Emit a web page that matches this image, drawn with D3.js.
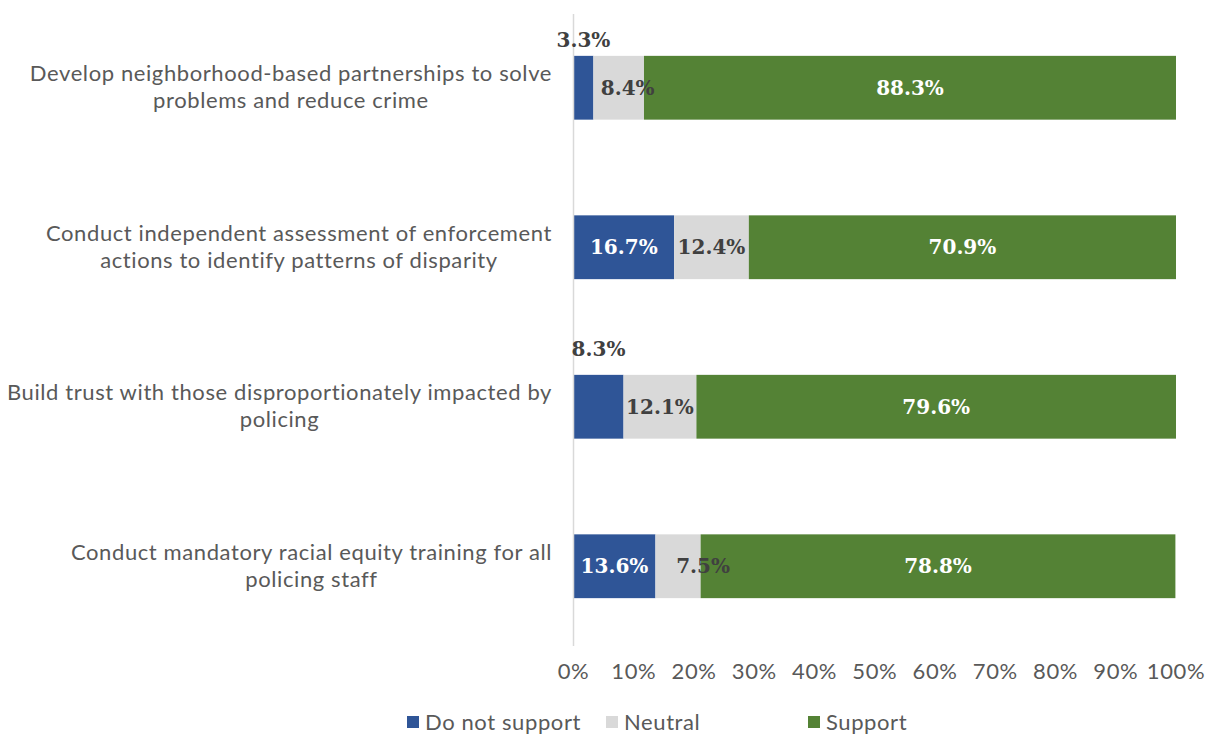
<!DOCTYPE html>
<html><head><meta charset="utf-8">
<script src="https://cdn.jsdelivr.net/npm/d3@7"></script>
<style>body{margin:0;background:#fff}svg{display:block}</style>
</head><body><svg id="c" width="1214" height="737"></svg>
<script>
const categories = [
  "Develop neighborhood-based partnerships to solve problems and reduce crime",
  "Conduct independent assessment of enforcement actions to identify patterns of disparity",
  "Build trust with those disproportionately impacted by policing",
  "Conduct mandatory racial equity training for all policing staff"
];
const categoryLines = [
  ["Develop neighborhood-based partnerships to solve","problems and reduce crime"],
  ["Conduct independent assessment of enforcement","actions to identify patterns of disparity"],
  ["Build trust with those disproportionately impacted by","policing"],
  ["Conduct mandatory racial equity training for all","policing staff"]
];
const seriesNames = ["Do not support","Neutral","Support"];
const doNotSupport = [3.3, 16.7, 8.3, 13.6];
const neutral = [8.4, 12.4, 12.1, 7.5];
const support = [88.3, 70.9, 79.6, 78.8];
const tickValues = [0,10,20,30,40,50,60,70,80,90,100];
const colors = ["#2F5597","#D9D9D9","#548235"];

const svg = d3.select("#c");
const x = d3.scaleLinear().domain([0,100]).range([573.5,1176]);
const y = d3.scaleBand().domain(categories).range([8,646]).paddingInner(0.6).paddingOuter(0.3);

const series = [doNotSupport, neutral, support];
const rows = categories.map((c,i)=>({cat:c, vals:series.map(s=>s[i])}));

// bars
rows.forEach((r,i)=>{
  let acc=0;
  r.vals.forEach((v,k)=>{
    svg.append("rect").attr("x",x(acc)).attr("y",y(r.cat))
      .attr("width",x(acc+v)-x(acc)).attr("height",y.bandwidth())
      .attr("fill",colors[k]);
    acc+=v;
  });
});

// axis line
svg.append("line").attr("x1",x(0)).attr("x2",x(0)).attr("y1",14).attr("y2",646)
  .attr("stroke","#D9D9D9").attr("stroke-width",1.5);

const fontSans = "Lato, 'Open Sans', sans-serif";
const fs = 22, ls = 0.6;
// tick labels
svg.selectAll("text.tick").data(tickValues).enter().append("text")
  .attr("x",d=>x(d)).attr("y",679).attr("text-anchor","middle")
  .attr("font-family",fontSans).attr("font-size",fs).attr("letter-spacing",ls).attr("fill","#595959")
  .text(d=>d+"%");

// category labels
rows.forEach((r,i)=>{
  const g = svg.append("g");
  const lines = categoryLines[i];
  const n = lines.length;
  const cy = y(r.cat)+y.bandwidth()/2;
  const texts = lines.map((l,j)=>g.append("text")
    .attr("y",cy + (j-(n-1)/2)*27 + 7)
    .attr("font-family",fontSans).attr("font-size",fs).attr("letter-spacing",ls).attr("fill","#595959")
    .attr("text-anchor","middle").text(l));
  const maxW = d3.max(texts,t=>t.node().getComputedTextLength());
  texts.forEach(t=>t.attr("x",552 - maxW/2));
});

// data labels
const labelDx = [[0,9,0],[0,0,0],[0,0,0],[0,25,0]];
const labelDy = [[-9,0,0],[0,0,0],[-19,0,0],[0,0,0]];
const labelAbove = [[true,false,false],[false,false,false],[true,false,false],[false,false,false]];
const labelColors = ["#fff","#404040","#fff"];
rows.forEach((r,i)=>{
  let acc=0;
  r.vals.forEach((v,k)=>{
    const cx = (x(acc)+x(acc+v))/2 + labelDx[i][k];
    const above = labelAbove[i][k];
    const ty = above ? y(r.cat)+labelDy[i][k] : y(r.cat)+y.bandwidth()/2+7;
    svg.append("text").attr("x",cx).attr("y",ty).attr("text-anchor","middle")
      .attr("font-family","'DejaVu Serif', serif").attr("font-weight","bold")
      .attr("font-size",20).attr("fill",above?"#404040":labelColors[k])
      .text(v.toFixed(1)+"%");
    acc+=v;
  });
});

// legend
const legX = [407, 606, 808];
seriesNames.forEach((s,k)=>{
  svg.append("rect").attr("x",legX[k]).attr("y",716).attr("width",12).attr("height",12).attr("fill",colors[k]);
  svg.append("text").attr("x",legX[k]+18).attr("y",730).attr("font-family",fontSans)
    .attr("font-size",fs).attr("letter-spacing",ls).attr("fill","#595959").text(s);
});
</script></body></html>
